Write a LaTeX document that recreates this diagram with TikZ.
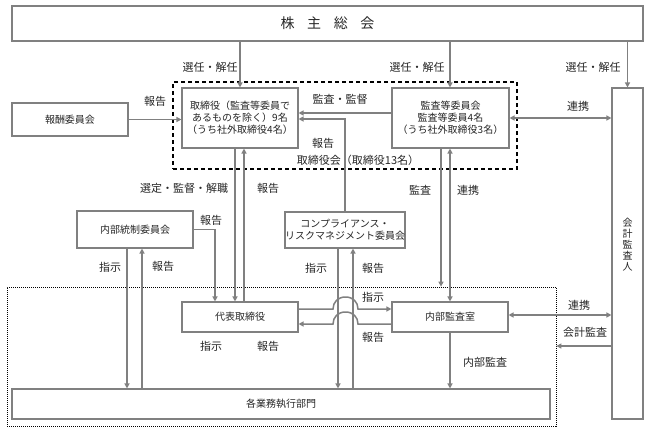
\documentclass[tikz,border=0pt]{standalone}
\usepackage{fontspec}
\setmainfont{Noto Sans CJK JP}
\usetikzlibrary{arrows.meta,calc}
\definecolor{lc}{HTML}{808080}
\definecolor{tc}{HTML}{262626}
\tikzset{
  box/.style={draw=lc, line width=1.1pt, fill=white, inner sep=0pt, align=center, text=tc, font=\fontsize{10}{12}\selectfont},
  lbl/.style={text=tc, font=\fontsize{11}{13}\selectfont, inner sep=0pt},
  conn/.style={draw=lc, line width=1.5pt},
  arr/.style={conn, -{Triangle[length=5pt,width=5pt]}},
  darr/.style={conn, {Triangle[length=5pt,width=5pt]}-{Triangle[length=5pt,width=5pt]}},
  grp/.style={draw=black, inner sep=0pt, fill=none},
}
\begin{document}
\begin{tikzpicture}[x=1pt,y=-1pt]
\useasboundingbox (0,0) rectangle (648,431);
% group frames
\node[grp, dashed, line width=1.2pt, dash pattern=on 4pt off 3pt, minimum width=344pt, minimum height=87pt] (board) at (345,125.5) {};
\node[grp, line width=0.7pt, dash pattern=on 1pt off 1pt, minimum width=549pt, minimum height=139pt] (exec) at (281.5,356.5) {};
% boxes
\node[box, minimum width=631pt, minimum height=35pt, font=\fontsize{14}{16}\selectfont] (kabu) at (327.5,23.5) {株\hspace{0.9em}主\hspace{0.9em}総\hspace{0.9em}会};
\node[box, minimum width=116pt, minimum height=60pt] (tori) at (240,118) {取締役（監査等委員で\\あるものを除く）9名\\（うち社外取締役4名）};
\node[box, minimum width=117pt, minimum height=60pt] (kansa) at (450.5,118) {監査等委員会\\監査等委員4名\\（うち社外取締役3名）};
\node[box, minimum width=116pt, minimum height=33pt] (hoshu) at (70,119.5) {報酬委員会};
\node[box, minimum width=31pt, minimum height=331pt] (kaikei) at (627.5,253.5) {};
\node[text=tc, font=\fontsize{10}{11}\selectfont, align=center, inner sep=0pt] (kaikeit) at (627.5,245) {会\\計\\監\\査\\人};
\node[box, minimum width=116pt, minimum height=37pt] (naibu) at (135,229.5) {内部統制委員会};
\node[box, minimum width=116pt, minimum height=36pt] (comp) at (345,230) {コンプライアンス・\\リスクマネジメント委員会};
\node[box, minimum width=116pt, minimum height=30pt] (daihyo) at (240,317) {代表取締役};
\node[box, minimum width=116pt, minimum height=30pt] (naikan) at (450,317) {内部監査室};
\node[box, minimum width=538pt, minimum height=30pt] (gyomu) at (281,404) {各業務執行部門};
% helper coordinates
\coordinate (kaY) at ($(kansa.west)+(0,-5)$);
\coordinate (toA) at ($(tori.south)+(-5,0)$);
\coordinate (toB) at ($(tori.south)+(4,0)$);
\coordinate (diC) at ($(daihyo.north)+(-25,0)$);
\coordinate (nbA) at ($(naibu.south)+(-8,0)$);
\coordinate (nbB) at ($(naibu.south)+(7,0)$);
\coordinate (cpA) at ($(comp.south)+(-7,0)$);
\coordinate (cpB) at ($(comp.south)+(8,0)$);
\coordinate (ksA) at ($(kansa.south)+(-9.5,0)$);
\coordinate (nkR) at ($(naikan.east)+(0,-2)$);
\coordinate (nkK) at ($(naikan.east)+(0,29)$);
\coordinate (dh1) at ($(daihyo.east)+(0,-8)$);
\coordinate (dh2) at ($(daihyo.east)+(0,7)$);
% connectors
\draw[arr] (kabu.south -| tori.north) -- (tori.north);
\draw[arr] (kabu.south -| naikan.north) -- (kansa.north -| naikan.north);
\draw[arr] (kabu.south -| kaikei.north) -- (kaikei.north);
\draw[arr] (hoshu.east) -- (hoshu.east -| tori.west);
\draw[arr] (kaY) -- (kaY -| tori.east);
\draw[arr] (comp.north) |- ($(tori.east)+(0,1)$);
\draw[darr] (kansa.east) -- (kansa.east -| kaikei.west);
\draw[arr] (toA) -- (toA |- daihyo.north);
\draw[arr] (toB |- daihyo.north) -- (toB);
\draw[arr] (naibu.east) -| (diC);
\draw[arr] (nbA) -- (nbA |- gyomu.north);
\draw[arr] (nbB |- gyomu.north) -- (nbB);
\draw[arr] (cpA) -- (cpA |- gyomu.north);
\draw[arr] (cpB |- gyomu.north) -- (cpB);
\draw[arr] (dh1) -- (333,309) .. controls (333,302) and (338,297) .. (345.5,297) .. controls (353,297) and (358,302) .. (358,309) -- (dh1 -| naikan.west);
\draw[arr] (dh2 -| naikan.west) -- (358,324) .. controls (358,317) and (353,312) .. (345.5,312) .. controls (338,312) and (333,317) .. (333,324) -- (dh2);
\draw[darr] (kansa.south -| naikan.north) -- (naikan.north);
\draw[arr] (ksA) -- (ksA |- exec.north);
\draw[arr] (naikan.south) -- (naikan.south |- gyomu.north);
\draw[darr] (nkR) -- (nkR -| kaikei.west);
\draw[arr] (nkK -| kaikei.west) -- (nkK -| exec.east);
% labels
\node[lbl] (l1) at (210,67) {選任・解任};
\node[lbl] (l2) at (417,67) {選任・解任};
\node[lbl] (l3) at (593,67) {選任・解任};
\node[lbl] (l4) at (155,101) {報告};
\node[lbl] (l5) at (340,99) {監査・監督};
\node[lbl] (l6) at (578,106) {連携};
\node[lbl] (l7) at (323,143) {報告};
\node[lbl] (l8) at (358,160) {取締役会（取締役13名）};
\node[lbl] (l9) at (184,188) {選定・監督・解職};
\node[lbl] (l10) at (268,188) {報告};
\node[lbl] (l11) at (420,190) {監査};
\node[lbl] (l12) at (468,190) {連携};
\node[lbl] (l13) at (211,220) {報告};
\node[lbl] (l14) at (110,267) {指示};
\node[lbl] (l15) at (163,266) {報告};
\node[lbl] (l16) at (316,268) {指示};
\node[lbl] (l17) at (373,268) {報告};
\node[lbl] (l18) at (373,297) {指示};
\node[lbl] (l19) at (373,337) {報告};
\node[lbl] (l20) at (579,305) {連携};
\node[lbl] (l21) at (585,332) {会計監査};
\node[lbl] (l22) at (211,346) {指示};
\node[lbl] (l23) at (268,346) {報告};
\node[lbl] (l24) at (485,362) {内部監査};
\end{tikzpicture}
\end{document}
